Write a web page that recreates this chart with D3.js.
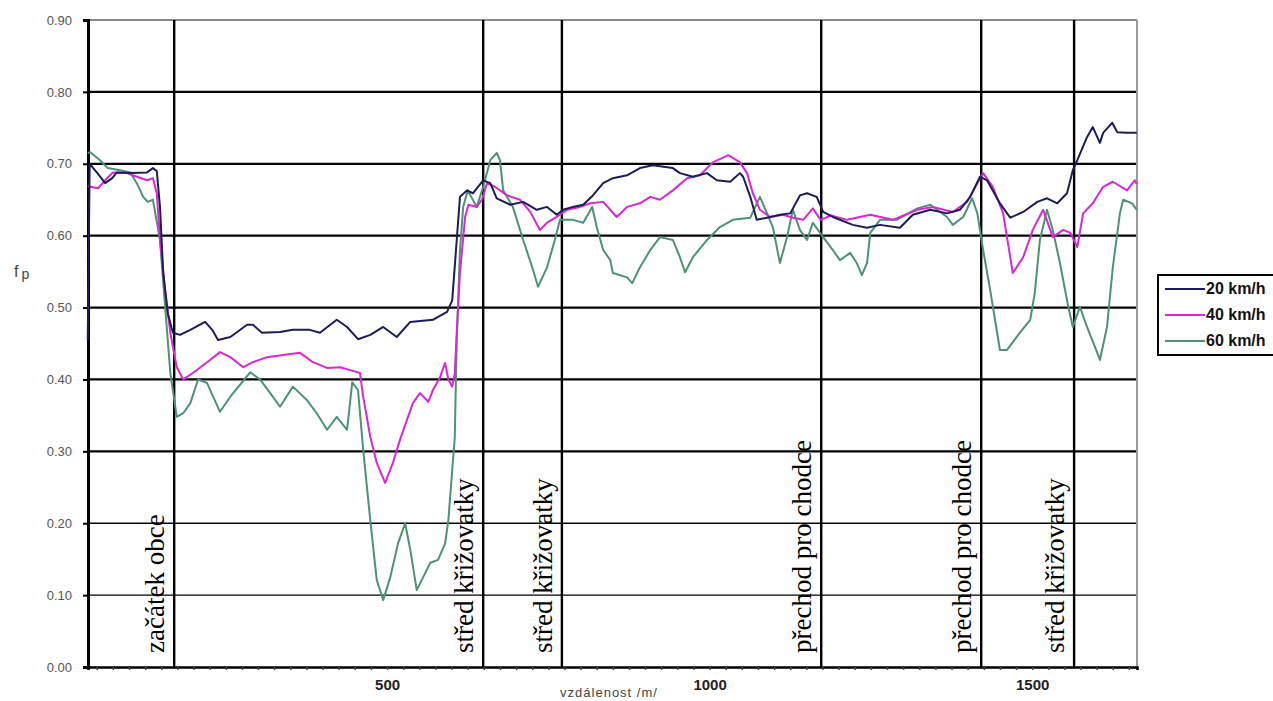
<!DOCTYPE html>
<html>
<head>
<meta charset="utf-8">
<script src="https://cdn.jsdelivr.net/npm/d3@7"></script>
<style>
  body { margin: 0; background: #fff; }
  svg { display: block; }
</style>
</head>
<body>
<svg id="chart" width="1273" height="701"></svg>
<script>
// values: [distance m, f_p]
let speed20 = [[36,0.455],[39,0.70],[51,0.687],[63,0.673],[74,0.68],[81,0.688],[102,0.687],[128,0.688],[137,0.694],[143,0.69],
  [148,0.64],[153,0.548],[160,0.492],[168,0.465],[179,0.462],[195,0.469],[218,0.48],[229,0.469],[238,0.455],[257,0.459],
  [283,0.476],[292,0.476],[306,0.465],[334,0.466],[354,0.469],[380,0.469],[396,0.465],[422,0.483],[438,0.473],[455,0.456],
  [474,0.462],[494,0.473],[515,0.459],[536,0.48],[571,0.483],[593,0.494],[601,0.51],[608,0.594],[613,0.654],[624,0.663],
  [633,0.659],[649,0.677],[660,0.673],[670,0.652],[691,0.643],[711,0.647],[732,0.636],[748,0.64],[763,0.629],[773,0.636],
  [788,0.64],[804,0.643],[819,0.656],[835,0.673],[850,0.68],[872,0.684],[892,0.694],[912,0.698],[943,0.694],[954,0.687],
  [974,0.682],[996,0.687],[1011,0.677],[1032,0.675],[1047,0.687],[1052,0.682],[1063,0.654],[1073,0.622],[1089,0.625],[1109,0.629],
  [1125,0.631],[1140,0.656],[1151,0.659],[1166,0.654],[1176,0.633],[1191,0.626],[1222,0.615],[1244,0.611],[1264,0.615],[1295,0.611],
  [1315,0.629],[1342,0.636],[1368,0.631],[1388,0.636],[1404,0.654],[1419,0.682],[1430,0.677],[1450,0.645],[1466,0.625],[1486,0.633],
  [1508,0.647],[1523,0.652],[1539,0.645],[1554,0.659],[1563,0.691],[1570,0.705],[1585,0.737],[1594,0.751],[1605,0.729],[1610,0.743],
  [1624,0.757],[1632,0.744],[1647,0.743],[1662,0.743]]

let speed40 = [[36,0.67],[40,0.668],[52,0.666],[63,0.677],[75,0.688],[97,0.687],[112,0.682],[128,0.677],[137,0.68],[143,0.659],
  [148,0.594],[156,0.524],[164,0.465],[174,0.417],[184,0.40],[199,0.409],[221,0.424],[241,0.438],[257,0.431],[277,0.417],
  [292,0.424],[314,0.431],[339,0.434],[365,0.437],[385,0.424],[407,0.416],[427,0.417],[443,0.413],[458,0.409],[463,0.376],
  [474,0.32],[484,0.284],[497,0.256],[509,0.284],[520,0.316],[531,0.344],[540,0.367],[551,0.381],[564,0.369],[571,0.385],
  [582,0.403],[590,0.423],[595,0.40],[601,0.39],[605,0.409],[608,0.465],[613,0.548],[621,0.626],[626,0.643],[639,0.64],
  [647,0.65],[655,0.673],[667,0.668],[686,0.656],[706,0.65],[722,0.633],[737,0.608],[748,0.618],[763,0.626],[779,0.636],
  [799,0.64],[815,0.645],[835,0.647],[856,0.626],[872,0.64],[892,0.645],[908,0.654],[923,0.65],[943,0.663],[965,0.68],
  [985,0.684],[1005,0.702],[1029,0.712],[1047,0.702],[1058,0.687],[1067,0.659],[1078,0.636],[1094,0.626],[1114,0.629],[1129,0.625],
  [1145,0.622],[1160,0.638],[1172,0.622],[1188,0.628],[1213,0.622],[1249,0.629],[1284,0.622],[1322,0.636],[1346,0.64],[1377,0.633],
  [1399,0.647],[1415,0.673],[1424,0.687],[1439,0.668],[1455,0.631],[1470,0.548],[1486,0.57],[1501,0.608],[1517,0.636],[1532,0.598],
  [1548,0.608],[1559,0.604],[1570,0.584],[1579,0.631],[1594,0.645],[1610,0.668],[1625,0.675],[1647,0.663],[1659,0.677],[1662,0.672]]

let speed60 = [[36,0.715],[40,0.716],[55,0.705],[67,0.694],[86,0.691],[102,0.688],[112,0.673],[122,0.654],[129,0.647],[137,0.65],
  [148,0.594],[156,0.501],[164,0.409],[174,0.348],[184,0.353],[195,0.367],[207,0.40],[221,0.395],[241,0.355],[257,0.376],
  [288,0.41],[303,0.40],[319,0.381],[334,0.362],[354,0.39],[376,0.371],[391,0.353],[407,0.33],[422,0.348],[438,0.33],
  [446,0.396],[455,0.385],[463,0.302],[474,0.204],[484,0.121],[494,0.093],[505,0.125],[517,0.172],[528,0.20],[536,0.163],
  [546,0.107],[556,0.125],[567,0.145],[579,0.149],[590,0.172],[595,0.204],[601,0.274],[605,0.32],[607,0.413],[608,0.455],
  [613,0.58],[618,0.64],[625,0.663],[639,0.64],[649,0.668],[660,0.705],[670,0.715],[675,0.705],[680,0.663],[695,0.64],
  [711,0.594],[725,0.556],[734,0.529],[748,0.556],[760,0.594],[768,0.622],[788,0.622],[804,0.618],[818,0.64],[825,0.612],
  [835,0.58],[846,0.566],[850,0.548],[872,0.542],[880,0.534],[892,0.556],[908,0.58],[923,0.598],[943,0.594],[954,0.57],
  [962,0.549],[974,0.57],[996,0.594],[1016,0.612],[1036,0.622],[1063,0.625],[1078,0.654],[1089,0.631],[1098,0.612],[1109,0.562],
  [1120,0.598],[1129,0.636],[1140,0.608],[1151,0.594],[1160,0.618],[1176,0.598],[1191,0.58],[1202,0.566],[1218,0.576],[1228,0.562],
  [1236,0.545],[1244,0.562],[1249,0.604],[1264,0.622],[1290,0.622],[1322,0.638],[1342,0.643],[1368,0.626],[1377,0.615],[1393,0.626],
  [1407,0.652],[1415,0.631],[1424,0.58],[1435,0.524],[1450,0.441],[1461,0.441],[1481,0.465],[1497,0.483],[1504,0.52],[1512,0.594],
  [1523,0.636],[1532,0.608],[1543,0.562],[1556,0.501],[1563,0.473],[1574,0.501],[1585,0.473],[1601,0.437],[1605,0.427],[1616,0.473],
  [1625,0.556],[1636,0.631],[1641,0.65],[1655,0.645],[1662,0.636]]

let seriesNames = ["20 km/h", "40 km/h", "60 km/h"]
let seriesColors = ["#1c1c58", "#d926d6", "#4c9273"]

let markerDist = [170, 649, 771, 1173, 1421, 1565]
let markerText = ["začátek obce", "střed křižovatky", "střed křižovatky", "přechod pro chodce", "přechod pro chodce", "střed křižovatky"]

let yTicks = [0, 0.1, 0.2, 0.3, 0.4, 0.5, 0.6, 0.7, 0.8, 0.9]
let xTickLabels = [500, 1000, 1500]

let svg = d3.select("#chart")
let plotLeft = 88, plotRight = 1137, plotTop = 20, plotBottom = 667

let x = d3.scaleLinear().domain([36.4, 1662.5]).range([plotLeft, plotRight])
let y = d3.scaleLinear().domain([0, 0.9]).range([plotBottom, plotTop])

// horizontal grid
svg.append("g")
   .selectAll("line")
   .data(yTicks.slice(1))
   .enter()
   .append("line")
   .attr("x1", plotLeft).attr("x2", plotRight)
   .attr("y1", d => y(d)).attr("y2", d => y(d))
   .attr("stroke", d => d > 0.85 ? "#8a8a8a" : "#000")
   .attr("stroke-width", d => d < 0.25 ? 1.4 : 2.2)

// right border
svg.append("line")
   .attr("x1", plotRight).attr("x2", plotRight)
   .attr("y1", plotTop).attr("y2", plotBottom)
   .attr("stroke", "#999").attr("stroke-width", 2)

// event markers
svg.append("g")
   .selectAll("line")
   .data(markerDist)
   .enter()
   .append("line")
   .attr("x1", d => x(d)).attr("x2", d => x(d))
   .attr("y1", plotTop).attr("y2", plotBottom)
   .attr("stroke", "#000").attr("stroke-width", 2.4)

// y axis
let yAxis = svg.append("g")
   .attr("transform", `translate(${plotLeft},0)`)
   .call(d3.axisLeft(y).tickValues(yTicks).tickFormat(d3.format(".2f")).tickSize(5).tickPadding(11))
yAxis.select(".domain").attr("stroke", "#000").attr("stroke-width", 3)
yAxis.selectAll(".tick line").attr("stroke", "#000").attr("stroke-width", 2)
yAxis.selectAll("text")
     .style("font-family", "Arial, 'Liberation Sans', sans-serif")
     .style("font-size", "13px")
     .attr("fill", "#555")

// x axis
let xTicks = d3.range(50, 1651, 25)
let xAxis = svg.append("g")
   .attr("transform", `translate(0,${plotBottom})`)
   .call(d3.axisBottom(x).tickValues(xTicks).tickSize(3).tickPadding(9)
           .tickFormat(d => xTickLabels.includes(d) ? d : ""))
xAxis.select(".domain").attr("stroke", "#000").attr("stroke-width", 2.6)
xAxis.selectAll(".tick line").attr("stroke", "#444").attr("stroke-width", 1.5)
xAxis.selectAll("text")
     .style("font-family", "Arial, 'Liberation Sans', sans-serif")
     .style("font-size", "15px")
     .style("font-weight", "bold")
     .attr("fill", "#222")

// series
let line = d3.line().x(d => x(d[0])).y(d => y(d[1]))
let allSeries = [speed20, speed40, speed60]
svg.append("g")
   .selectAll("path")
   .data([2, 1, 0])
   .enter()
   .append("path")
   .attr("d", i => line(allSeries[i]))
   .attr("fill", "none")
   .attr("stroke", i => seriesColors[i])
   .attr("stroke-width", 2)
   .attr("stroke-linejoin", "round")

// marker labels
svg.append("g")
   .selectAll("text")
   .data(markerDist)
   .enter()
   .append("text")
   .attr("transform", d => `translate(${x(d) - 10},653) rotate(-90)`)
   .text((d, i) => markerText[i])
   .style("font-family", "'Liberation Serif', 'Times New Roman', serif")
   .style("font-size", "27px")
   .attr("fill", "#000")

// axis titles
let fp = svg.append("text")
   .attr("x", 14).attr("y", 277)
   .style("font-family", "Arial, 'Liberation Sans', sans-serif")
   .style("font-size", "16px")
   .attr("fill", "#444")
fp.append("tspan").text("f")
fp.append("tspan").attr("dx", 3).attr("dy", 2).style("font-size", "14px").text("p")

svg.append("text")
   .attr("x", 609).attr("y", 697)
   .attr("text-anchor", "middle")
   .style("font-family", "Arial, 'Liberation Sans', sans-serif")
   .style("font-size", "13px")
   .style("letter-spacing", "1px")
   .attr("fill", "#444")
   .text("vzdálenost /m/")

// legend
let legend = svg.append("g")
legend.append("rect")
   .attr("x", 1158).attr("y", 275)
   .attr("width", 130).attr("height", 80)
   .attr("fill", "#fff").attr("stroke", "#000").attr("stroke-width", 2)

let item = legend.selectAll("g")
   .data(seriesNames)
   .enter()
   .append("g")
   .attr("transform", (d, i) => `translate(0,${289 + i * 26})`)
item.append("line")
    .attr("x1", 1165).attr("x2", 1205)
    .attr("stroke", (d, i) => seriesColors[i])
    .attr("stroke-width", 2)
item.append("text")
    .attr("x", 1206).attr("y", 5)
    .text(d => d)
    .style("font-family", "Arial, 'Liberation Sans', sans-serif")
    .style("font-size", "16px")
    .style("font-weight", "bold")
    .attr("fill", "#111")
</script>
</body>
</html>
